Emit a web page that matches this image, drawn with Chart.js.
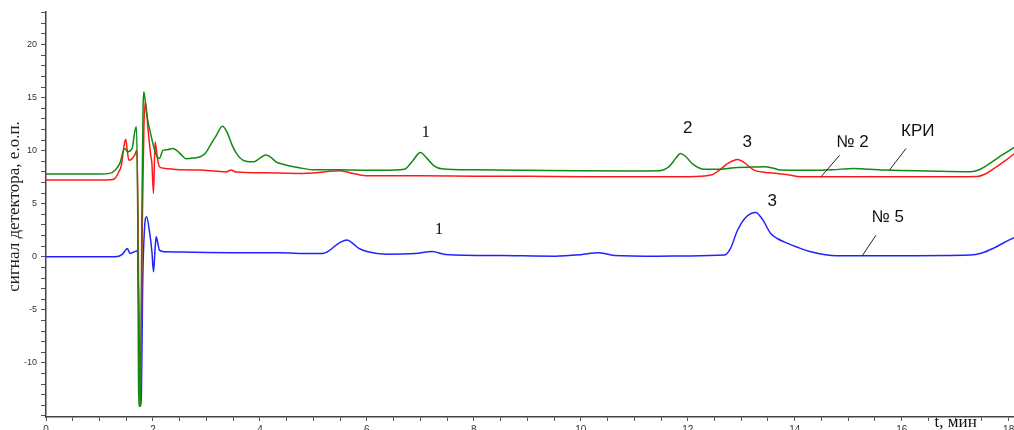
<!DOCTYPE html>
<html>
<head>
<meta charset="utf-8">
<script src="https://cdn.jsdelivr.net/npm/chart.js@4.4.0/dist/chart.umd.min.js"></script>
<style>
  html, body { margin: 0; padding: 0; background: #fff; overflow: hidden; }
  #wrap { width: 1014px; height: 440px; }
</style>
</head>
<body>
<div id="wrap"><canvas id="chromChart" width="1014" height="440"></canvas></div>
<script>
// КРИ (зелёная)
const kriX = [0, 0.5, 1.0, 1.19, 1.3, 1.38, 1.47, 1.53, 1.61, 1.66, 1.69, 1.715, 1.73, 1.75, 1.77, 1.79, 1.815, 1.83, 1.88, 1.97,
  2.05, 2.12, 2.19, 2.28, 2.37, 2.45, 2.53, 2.62, 2.75, 2.87, 2.97, 3.06, 3.18, 3.30, 3.38, 3.49, 3.58, 3.68, 3.80, 3.89,
  4.0, 4.11, 4.2, 4.30, 4.45, 4.73, 4.98, 5.5, 6.0, 6.5, 6.7, 6.85, 7.0, 7.12, 7.25, 7.4, 8.0, 9.0, 10.0, 11.0,
  11.45, 11.65, 11.78, 11.86, 11.95, 12.1, 12.31, 12.6, 12.93, 13.2, 13.43, 13.6, 13.73, 14.2, 14.7, 15.1, 15.4, 15.73, 16.5, 17.28,
  17.45, 17.65, 17.85, 18.1];
const kriY = [7.8, 7.8, 7.8, 7.86, 8.2, 8.8, 10.2, 9.9, 10.2, 11.8, 12.25, 4, -12, -14.1, -14, 3, 14, 15.55, 13.5, 11.3,
  9.75, 9.27, 10.05, 10.1, 10.2, 10.0, 9.6, 9.25, 9.3, 9.4, 9.7, 10.4, 11.4, 12.3, 11.8, 10.4, 9.6, 9.1, 8.95, 8.95,
  9.3, 9.6, 9.4, 8.95, 8.7, 8.4, 8.2, 8.2, 8.15, 8.17, 8.25, 9.0, 9.84, 9.3, 8.6, 8.3, 8.2, 8.15, 8.1, 8.08,
  8.1, 8.5, 9.3, 9.74, 9.5, 8.7, 8.24, 8.25, 8.42, 8.45, 8.48, 8.35, 8.17, 8.15, 8.2, 8.33, 8.25, 8.17, 8.08, 8.01,
  8.2, 8.8, 9.5, 10.3];

// № 2 (красная)
const no2X = [0, 1.0, 1.2, 1.29, 1.35, 1.41, 1.46, 1.49, 1.52, 1.55, 1.60, 1.66, 1.70, 1.72, 1.735, 1.75, 1.77, 1.80, 1.83, 1.86,
  1.91, 1.96, 1.98, 2.01, 2.04, 2.08, 2.12, 2.22, 2.5, 2.87, 3.2, 3.37, 3.46, 3.55, 4.11, 4.73, 5.1, 5.3, 5.48, 5.7,
  5.98, 7.0, 8.0, 9.0, 10.0, 11.0, 12.0, 12.43, 12.6, 12.75, 12.93, 13.05, 13.24, 13.45, 13.68, 13.9, 14.11, 15.0, 16.0, 17.0,
  17.4, 17.6, 17.77, 17.95, 18.1];
const no2Y = [7.23, 7.23, 7.25, 7.39, 7.9, 8.64, 10.5, 11.07, 10.0, 9.1, 9.2, 9.6, 10.05, 4, -5, -13, -12, 3, 12, 14.6,
  11.9, 9.5, 8.8, 5.97, 10.84, 9.42, 8.48, 8.33, 8.2, 8.17, 8.05, 8.0, 8.17, 8.0, 7.92, 7.86, 7.95, 8.05, 8.1, 7.9,
  7.64, 7.64, 7.6, 7.58, 7.55, 7.54, 7.55, 7.7, 8.2, 8.8, 9.18, 8.9, 8.17, 7.95, 7.86, 7.7, 7.54, 7.54, 7.54, 7.54,
  7.56, 7.9, 8.48, 9.1, 9.7];

// № 5 (синяя)
const no5X = [0, 1.0, 1.29, 1.42, 1.50, 1.52, 1.57, 1.64, 1.71, 1.735, 1.76, 1.78, 1.81, 1.84, 1.88, 1.94, 1.98, 2.01, 2.04, 2.06,
  2.09, 2.12, 2.22, 2.5, 3.0, 3.5, 4.0, 4.36, 4.73, 5.17, 5.3, 5.45, 5.63, 5.75, 5.85, 6.0, 6.35, 6.9, 7.22, 7.47,
  8.5, 9.52, 10.0, 10.32, 10.63, 11.44, 12.0, 12.68, 12.8, 12.93, 13.1, 13.27, 13.4, 13.55, 13.68, 13.80, 14.05, 14.3, 14.79, 16.0,
  17.28, 17.5, 17.71, 17.9, 18.1];
const no5Y = [0, 0, 0, 0.2, 0.7, 0.79, 0.32, 0.45, 0.56, -5, -14, -13.5, -2, 2.5, 3.77, 2.2, 0.5, -1.41, 0.8, 1.89,
  1.3, 0.63, 0.47, 0.45, 0.4, 0.38, 0.38, 0.38, 0.32, 0.32, 0.6, 1.2, 1.57, 1.2, 0.79, 0.5, 0.25, 0.3, 0.5, 0.22,
  0.12, 0.06, 0.2, 0.38, 0.13, 0.06, 0.08, 0.16, 0.8, 2.5, 3.8, 4.18, 3.5, 2.2, 1.7, 1.41, 0.9, 0.47, 0.1, 0.1,
  0.16, 0.35, 0.79, 1.3, 1.8];

// подписи пиков и образцов
const noteText = ['1', '1', '2', '3', '3', '№ 2', 'КРИ', '№ 5'];
const noteX = [7.10, 7.35, 12.0, 13.11, 13.58, 15.08, 16.30, 15.74];
const noteY = [11.7, 2.6, 12.09, 10.83, 5.27, 10.83, 11.86, 3.76];
const noteFont = ['17px "Liberation Serif"', '17px "Liberation Serif"', '17px "Liberation Sans"', '17px "Liberation Sans"',
  '17px "Liberation Sans"', '17px "Liberation Sans"', '17px "Liberation Sans"', '17px "Liberation Sans"'];

// выноски
const leadX1 = [14.84, 16.08, 15.52];
const leadY1 = [9.57, 10.2, 2.04];
const leadX2 = [14.49, 15.77, 15.26];
const leadY2 = [7.53, 8.16, 0.08];

const yTitle = 'сигнал детектора, е.о.п.';
const xTitle = 't, мин';

const toPoints = (xs, ys) => xs.map((x, i) => ({ x: x, y: ys[i] }));

const notesPlugin = {
  id: 'notes',
  afterDatasetsDraw: function (chart) {
    const ctx = chart.ctx;
    const sx = chart.scales.x;
    const sy = chart.scales.y;
    ctx.save();
    ctx.fillStyle = '#111';
    ctx.textAlign = 'center';
    ctx.textBaseline = 'middle';
    noteText.forEach((t, i) => {
      ctx.font = noteFont[i];
      ctx.fillText(t, sx.getPixelForValue(noteX[i]), sy.getPixelForValue(noteY[i]));
    });
    ctx.strokeStyle = '#222';
    ctx.lineWidth = 1;
    leadX1.forEach((x, i) => {
      ctx.beginPath();
      ctx.moveTo(sx.getPixelForValue(x), sy.getPixelForValue(leadY1[i]));
      ctx.lineTo(sx.getPixelForValue(leadX2[i]), sy.getPixelForValue(leadY2[i]));
      ctx.stroke();
    });
    // подпись оси времени
    ctx.font = '17px "Liberation Serif"';
    ctx.fillText(xTitle, sx.getPixelForValue(17.01), chart.chartArea.bottom + 6);
    // подпись оси сигнала (немного выше центра, как в оригинале)
    ctx.fillStyle = '#222';
    ctx.translate(15, (chart.chartArea.top + chart.chartArea.bottom) / 2 - 8);
    ctx.rotate(-Math.PI / 2);
    ctx.fillText(yTitle, 0, 0);
    ctx.restore();
  },
};

const lineStyle = { borderWidth: 1.5, pointRadius: 0, fill: false, cubicInterpolationMode: 'monotone' };

new Chart(document.getElementById('chromChart'), {
  type: 'line',
  data: {
    datasets: [
      { label: 'КРИ', data: toPoints(kriX, kriY), borderColor: '#118a11', ...lineStyle },
      { label: '№ 2', data: toPoints(no2X, no2Y), borderColor: '#ff1a1a', ...lineStyle },
      { label: '№ 5', data: toPoints(no5X, no5Y), borderColor: '#2222ff', ...lineStyle },
    ],
  },
  options: {
    responsive: false,
    animation: false,
    devicePixelRatio: 1,
    layout: { padding: { top: 12, right: 0, left: 0, bottom: 0 } },
    plugins: {
      legend: { display: false },
      tooltip: { enabled: false },
    },
    scales: {
      x: {
        type: 'linear',
        min: 0,
        max: 18.1,
        grid: { drawOnChartArea: false, tickLength: 4, color: '#555' },
        border: { color: '#444', width: 1.5 },
        ticks: {
          stepSize: 0.5,
          autoSkip: false,
          maxRotation: 0,
          includeBounds: false,
          padding: 3,
          color: '#333',
          font: { family: 'Liberation Sans', size: 10 },
          callback: (v) => (v % 2 === 0 ? String(v) : ''),
        },
        afterFit: (scale) => {
          scale.height = 23;
          scale.paddingLeft = 0;
          scale.paddingRight = 0;
        },
      },
      y: {
        min: -15.1,
        max: 23.07,
        grid: { drawOnChartArea: false, tickLength: 5, color: '#555' },
        border: { color: '#444', width: 1.5 },
        ticks: {
          stepSize: 1,
          autoSkip: false,
          includeBounds: false,
          padding: 4,
          color: '#333',
          font: { family: 'Liberation Sans', size: 9 },
          callback: (v) => (v % 5 === 0 && v > -15 ? String(v) : ''),
        },
        afterFit: (scale) => {
          scale.width = 46;
          scale.paddingTop = 0;
          scale.paddingBottom = 0;
        },
      },
    },
  },
  plugins: [notesPlugin],
});
</script>
</body>
</html>
